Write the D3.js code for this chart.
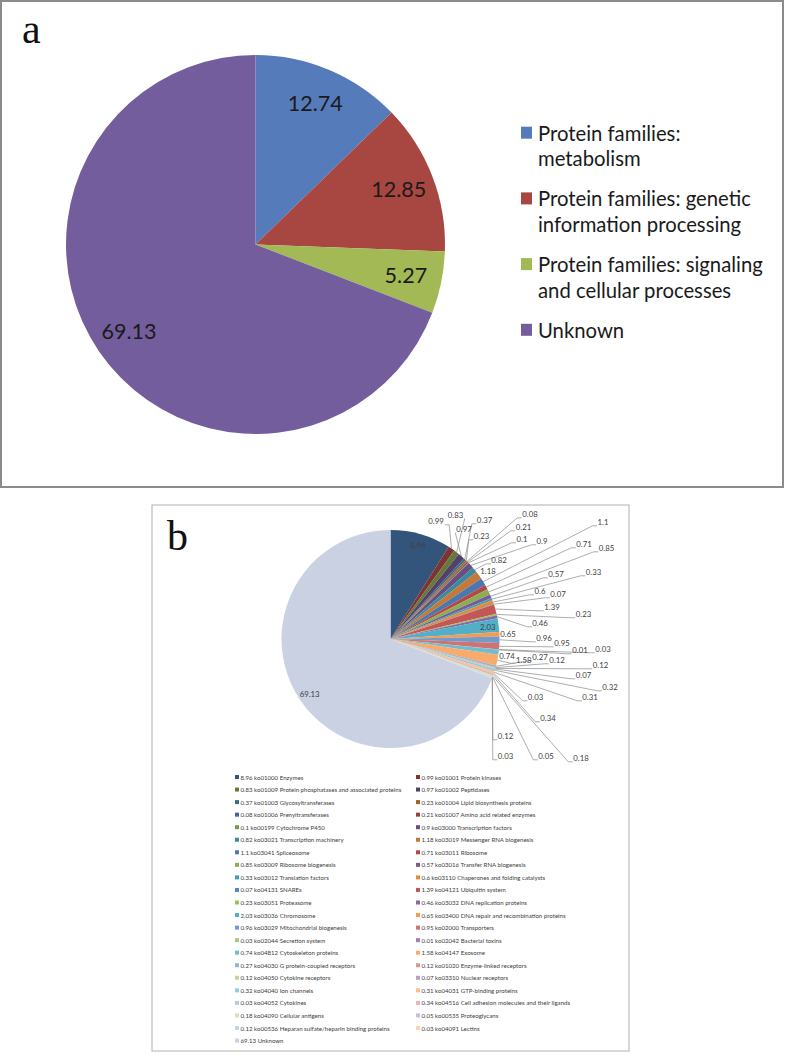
<!DOCTYPE html>
<html><head><meta charset="utf-8">
<script src="https://cdn.jsdelivr.net/npm/d3@7"></script>
<style>body{margin:0;background:#fff}svg{display:block}</style>
</head><body>
<svg id="chart" width="787" height="1054"></svg>
<script>
// ---------- Panel a data ----------
const catA = ["Protein families:\nmetabolism", "Protein families: genetic\ninformation processing", "Protein families: signaling\nand cellular processes", "Unknown"];
const valA = [12.74, 12.85, 5.27, 69.13];

// ---------- Panel b data ----------
const codesB = ["ko01000","ko01001","ko01009","ko01002","ko01003","ko01004","ko01006","ko01007","ko00199","ko03000","ko03021","ko03019","ko03041","ko03011","ko03009","ko03016","ko03012","ko03110","ko04131","ko04121","ko03051","ko03032","ko03036","ko03400","ko03029","ko02000","ko02044","ko02042","ko04812","ko04147","ko04030","ko01020","ko04050","ko03310","ko04040","ko04031","ko04052","ko04516","ko04090","ko00535","ko00536","ko04091",""];
const namesB = ["Enzymes","Protein kinases","Protein phosphatases and associated proteins","Peptidases","Glycosyltransferases","Lipid biosynthesis proteins","Prenyltransferases","Amino acid related enzymes","Cytochrome P450","Transcription factors","Transcription machinery","Messenger RNA biogenesis","Spliceosome","Ribosome","Ribosome biogenesis","Transfer RNA biogenesis","Translation factors","Chaperones and folding catalysts","SNAREs","Ubiquitin system","Proteasome","DNA replication proteins","Chromosome","DNA repair and recombination proteins","Mitochondrial biogenesis","Transporters","Secretion system","Bacterial toxins","Cytoskeleton proteins","Exosome","G protein-coupled receptors","Enzyme-linked receptors","Cytokine receptors","Nuclear receptors","Ion channels","GTP-binding proteins","Cytokines","Cell adhesion molecules and their ligands","Cellular antigens","Proteoglycans","Heparan sulfate/heparin binding proteins","Lectins","Unknown"];
const valB = [8.96,0.99,0.83,0.97,0.37,0.23,0.08,0.21,0.1,0.9,0.82,1.18,1.1,0.71,0.85,0.57,0.33,0.6,0.07,1.39,0.23,0.46,2.03,0.65,0.96,0.95,0.03,0.01,0.74,1.58,0.27,0.12,0.12,0.07,0.32,0.31,0.03,0.34,0.18,0.05,0.12,0.03,69.13];

// ---------- layout / style (not data) ----------
const colA = ["#557BBB","#A84742","#A2B955","#735D9C"];
const accents = ["#4F81BD","#C0504D","#9BBB59","#8064A2","#4BACC6","#F79646"];
const shadeSteps = [-0.35,-0.2,-0.08,0.04,0.2,0.4,0.58];
function shade(c, t){ return t < 0 ? d3.interpolateRgb(c, "#000")(-t) : d3.interpolateRgb(c, "#fff")(t); }
const colB = valB.map((v,i) => i === valB.length-1 ? "#CAD1E3" : shade(accents[i%6], shadeSteps[Math.floor(i/6)]));
// manually placed label spots of the reference (page coords of label centres); null = inside label
const labelSpotsB = [null,[436,521],[455.5,515],[464,529],[484.5,520],[481.5,536],[530,514],[523.5,527],[522,539],[542,541],[499,560],[488,571],[603,522],[584,544],[606.5,548],[556,574],[593.5,572],[540,591],[558,594],[552,607],[583.5,614],[540,623],null,[508,634],[544,638],[562,643],[603,649],[580,650],[507,656],[523.8,659.5],[540,657],[557,660],[600.5,665],[583.5,675],[610,687],[590,697],[535.5,697],[548,718],[581,758],[546,756],[505.5,736],[505.5,756],null];

const svg = d3.select("#chart");
const FONT = "Lato, 'Open Sans', sans-serif";

// ================= Panel a =================
svg.append("rect").attr("x",1).attr("y",1).attr("width",782).attr("height",486)
  .attr("fill","#fff").attr("stroke","#8c8c8c").attr("stroke-width",2);
svg.append("text").attr("x",22).attr("y",43).text("a")
  .attr("font-family","'Liberation Serif','DejaVu Serif',serif").attr("font-size",42).attr("fill","#111");

const rA = 189.5;
const gA = svg.append("g").attr("transform","translate(255.5,244.5)");
const pieA = d3.pie().sort(null).value(d=>d)(valA);
const arcA = d3.arc().innerRadius(0).outerRadius(rA);
const lblArcA = d3.arc().innerRadius(rA*0.81).outerRadius(rA*0.81);
gA.selectAll("path").data(pieA).join("path").attr("d",arcA).attr("fill",(d,i)=>colA[i]);
gA.selectAll("text").data(pieA).join("text")
  .attr("transform",d=>`translate(${lblArcA.centroid(d)})`)
  .attr("text-anchor","middle").attr("dominant-baseline","central")
  .attr("font-family",FONT).attr("font-size",21.5).attr("fill","#1a1a1a")
  .text(d=>d.data);

// legend a
let ly = 132.7;
catA.forEach((c,i)=>{
  const lines = c.split("\n");
  svg.append("rect").attr("x",521).attr("y",ly-6).attr("width",11).attr("height",12).attr("fill",colA[i]);
  const t = svg.append("text").attr("font-family",FONT).attr("font-size",20.3).attr("fill","#1a1a1a");
  lines.forEach((ln,j)=>{
    t.append("tspan").attr("x",538).attr("y",ly + j*25.6).attr("dominant-baseline","central").text(ln);
  });
  ly += lines.length*25.6 + 14.5;
});

// ================= Panel b =================
svg.append("rect").attr("x",152).attr("y",505).attr("width",477).attr("height",546)
  .attr("fill","#fff").attr("stroke","#b0b0b0").attr("stroke-width",1);
svg.append("text").attr("x",167).attr("y",550).text("b")
  .attr("font-family","'Liberation Serif','DejaVu Serif',serif").attr("font-size",42).attr("fill","#111");

const rB = 109, cxB = 390.5, cyB = 639;
const gB = svg.append("g").attr("transform",`translate(${cxB},${cyB})`);
const dataB = valB.map((v,i)=>({v, i}));
const pieB = d3.pie().sort(null).value(d=>d.v)(dataB);
const arcB = d3.arc().innerRadius(0).outerRadius(rB);
const edgeB = d3.arc().innerRadius(rB).outerRadius(rB);
const inB = d3.arc().innerRadius(rB*0.9).outerRadius(rB*0.9);
gB.selectAll("path.slice").data(pieB).join("path").attr("class","slice")
  .attr("d",arcB).attr("fill",(d,i)=>colB[i]);

const leaders = gB.append("g");
const lblG = gB.append("g");
pieB.forEach((d,i)=>{
  const spot = labelSpotsB[i];
  const pos = spot ? [spot[0]-cxB, spot[1]-cyB] : inB.centroid(d);
  const t = lblG.append("text").attr("x",pos[0]).attr("y",pos[1])
    .attr("text-anchor","middle").attr("dominant-baseline","central")
    .attr("font-family",FONT).attr("font-size",7.8).attr("fill","#404040")
    .text(d.data.v);
  if(!spot) return;
  const bb = t.node().getBBox();
  const A = edgeB.centroid(d);
  const x0 = bb.x, x1 = bb.x + bb.width, yb = pos[1] + 3.8;
  const dx = Math.max(x0 - A[0], 0, A[0] - x1), dy = Math.max(bb.y - A[1], 0, A[1] - (bb.y+bb.height));
  if (Math.hypot(dx,dy) < 7) return;
  let pts;
  if (pos[0] >= A[0]) {
    const ex = Math.max(x0 - 5, Math.min(A[0], x0 - 1));
    pts = [A, [ex, yb], [x0 - 0.5, yb]];
  } else {
    const ex = Math.min(x1 + 5, Math.max(A[0], x1 + 1));
    pts = [A, [ex, yb], [x1 + 0.5, yb]];
  }
  leaders.append("path").attr("d", d3.line()(pts)).attr("fill","none")
    .attr("stroke","#8a8a8a").attr("stroke-width",0.7);
});

// legend b
const legB = svg.append("g");
valB.forEach((v,i)=>{
  const col = i%2, row = Math.floor(i/2);
  const x = col ? 416 : 235, y = 777 + row*12.55;
  legB.append("rect").attr("x",x).attr("y",y-2).attr("width",4).attr("height",4).attr("fill",colB[i]);
  legB.append("text").attr("x",x+5.5).attr("y",y).attr("dominant-baseline","central")
    .attr("font-family",FONT).attr("font-size",6.1).attr("fill","#404040")
    .text(codesB[i] ? `${v} ${codesB[i]} ${namesB[i]}` : `${v} ${namesB[i]}`);
});
</script>
</body></html>
